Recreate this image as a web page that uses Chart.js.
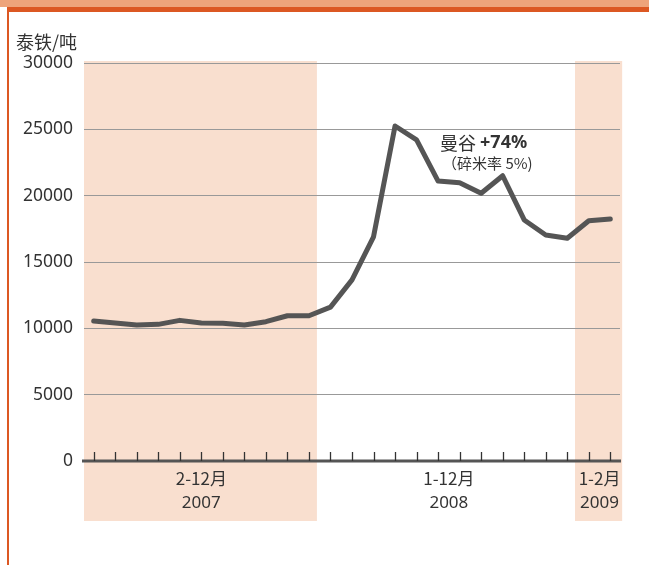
<!DOCTYPE html>
<html>
<head>
<meta charset="utf-8">
<script src="https://cdn.jsdelivr.net/npm/chart.js@4.4.1/dist/chart.umd.min.js"></script>
<style>
  body { margin: 0; background: #fff; }
  #wrap { position: relative; width: 649px; height: 565px; overflow: hidden; }
  #band1 { position: absolute; left: 0; top: 0; width: 649px; height: 7px; background: #eea47b; }
  #band2 { position: absolute; left: 7px; top: 7px; width: 642px; height: 5px; background: #dc5823; }
  #side { position: absolute; left: 7px; top: 7px; width: 2px; height: 558px; background: #dc5823; }
  canvas { position: absolute; left: 0; top: 0; }
</style>
</head>
<body>
<div id="wrap">
  <canvas id="graph" width="649" height="565"></canvas>
  <div id="band1"></div>
  <div id="band2"></div>
  <div id="side"></div>
</div>
<script>
// monthly price, Thai rice (baht / ton), Feb 2007 - Feb 2009
var months = ['2007-02','2007-03','2007-04','2007-05','2007-06','2007-07','2007-08','2007-09','2007-10','2007-11','2007-12',
  '2008-01','2008-02','2008-03','2008-04','2008-05','2008-06','2008-07','2008-08','2008-09','2008-10','2008-11','2008-12',
  '2009-01','2009-02'];
var prices = [10550, 10400, 10250, 10300, 10600, 10400, 10380, 10250, 10500, 10950, 10950,
  11600, 13650, 16900, 25250, 24200, 21100, 20980, 20180, 21500, 18170, 17040, 16790,
  18110, 18240];

var yTicks = [0, 5000, 10000, 15000, 20000, 25000, 30000];
var periodMonths = ['2-12月', '1-12月', '1-2月'];
var periodYears = ['2007', '2008', '2009'];
var periodFirst = [0, 11, 23];   // index of first month in each period
var periodLast = [10, 22, 24];
var shaded = [[-0.45, 10.37], [22.36, 24.55]];

var yTitle = '泰铁/吨';
var noteTitle = '曼谷 ';
var noteValue = '+74%';
var noteSub = '（碎米率 5%)';

var points = prices.map(function (p, i) { return { x: i, y: p }; });

var fontLat = '"Noto Sans", "Noto Sans CJK SC", sans-serif';
var fontCjk = '"Noto Sans CJK SC", "Noto Sans", sans-serif';

const decor = {
  id: 'decor',
  beforeDraw(chart) {
    const ctx = chart.ctx;
    const x = chart.scales.x, y = chart.scales.y;
    ctx.save();
    ctx.fillStyle = '#f9dfcf';
    shaded.forEach(function (r) {
      const a = x.getPixelForValue(r[0]);
      const b = x.getPixelForValue(r[1]);
      ctx.fillRect(a, y.top - 2, b - a, 521 - (y.top - 2));
    });
    ctx.restore();
  },
  afterDatasetsDraw(chart) {
    const ctx = chart.ctx;
    const x = chart.scales.x, y = chart.scales.y;
    const base = y.getPixelForValue(0);
    ctx.save();
    // axis line
    ctx.strokeStyle = '#555';
    ctx.lineWidth = 3;
    ctx.beginPath();
    ctx.moveTo(x.left - 2, base);
    ctx.lineTo(x.right + 1, base);
    ctx.stroke();
    // upward tick marks, one per month
    ctx.strokeStyle = '#333';
    ctx.lineWidth = 1.3;
    months.forEach(function (m, i) {
      const px = Math.round(x.getPixelForValue(i)) + 0.5;
      ctx.beginPath();
      ctx.moveTo(px, base);
      ctx.lineTo(px, base - 9);
      ctx.stroke();
    });
    // period labels
    ctx.fillStyle = '#333';
    ctx.textAlign = 'center';
    ctx.textBaseline = 'middle';
    periodMonths.forEach(function (lab, i) {
      const cx = x.getPixelForValue((periodFirst[i] + periodLast[i]) / 2);
      ctx.font = '17px ' + fontCjk;
      ctx.fillText(lab, cx, base + 18);
      ctx.font = '17px ' + fontLat;
      ctx.fillText(periodYears[i], cx, base + 42);
    });
    // axis title
    ctx.textAlign = 'left';
    ctx.font = '18px ' + fontCjk;
    ctx.fillText(yTitle, 16, 42);
    // note
    const nx = x.getPixelForValue(16.09);
    const ny = y.getPixelForValue(23970);
    ctx.font = '18px ' + fontCjk;
    ctx.fillText(noteTitle, nx, ny);
    const w = ctx.measureText(noteTitle).width;
    ctx.font = 'bold 18px ' + fontLat;
    ctx.fillText(noteValue, nx + w, ny);
    ctx.font = '15px ' + fontCjk;
    ctx.fillText(noteSub, nx + 2, ny + 20);
    ctx.restore();
  }
};

const dayChart = new Chart(document.getElementById('graph'), {
  type: 'line',
  data: {
    datasets: [{
      data: points,
      borderColor: '#555555',
      borderWidth: 5,
      pointRadius: 0,
      tension: 0,
      borderCapStyle: 'round',
      borderJoinStyle: 'round',
      clip: false
    }]
  },
  options: {
    responsive: false,
    animation: false,
    layout: { padding: { left: 0, top: 63, right: 29, bottom: 104 } },
    plugins: { legend: { display: false }, tooltip: { enabled: false } },
    scales: {
      x: {
        type: 'linear',
        min: -0.45,
        max: 24.45,
        grid: { display: false },
        border: { display: false },
        ticks: { display: false },
        afterFit: function (s) { s.height = 0; }
      },
      y: {
        min: 0,
        max: 30000,
        afterBuildTicks: function (s) { s.ticks = yTicks.map(function (v) { return { value: v }; }); },
        grid: {
          color: function (c) { return c.tick && c.tick.value === 0 ? 'rgba(0,0,0,0)' : '#999'; },
          lineWidth: 1,
          drawTicks: false
        },
        border: { display: false },
        ticks: {
          color: '#333',
          padding: 11,
          font: { family: fontLat, size: 17.5 },
          callback: function (v) { return String(v); }
        },
        afterFit: function (s) { s.width = 84; }
      }
    }
  },
  plugins: [decor]
});
</script>
</body>
</html>
